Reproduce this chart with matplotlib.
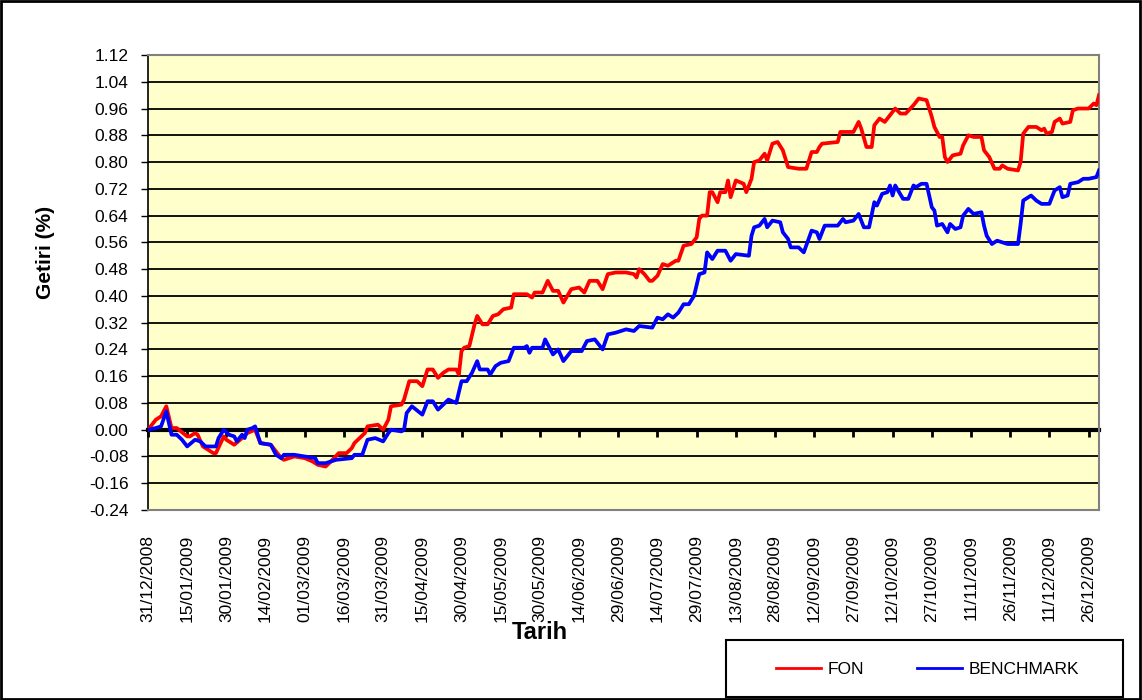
import numpy as np
import matplotlib
matplotlib.use("Agg")
import matplotlib.pyplot as plt
import matplotlib.dates as mdates
from matplotlib.patches import Rectangle
from matplotlib.lines import Line2D

plt.rcParams['font.family'] = ['Liberation Sans', 'DejaVu Sans']

start = np.datetime64('2008-12-31')

# gün (31/12/2008'den itibaren) ve getiri değerleri
fon_days = [0, 3, 5, 7, 9, 11, 15, 16, 18, 19, 21, 25, 26, 29, 30, 33, 36, 38, 41, 43,
            47, 51, 52, 56, 60, 63, 65, 68, 70, 73, 76, 78, 79, 83, 84, 88, 90, 92, 93, 97,
            98, 100, 103, 105, 107, 109, 111, 113, 115, 118, 119, 120, 121, 123, 125, 126, 128, 130, 132, 134,
            136, 139, 140, 145, 147, 148, 151, 153, 155, 157, 159, 162, 165, 167, 169, 172, 174, 176, 179, 183,
            186, 187, 188, 190, 192, 193, 195, 197, 199, 202, 203, 205, 208, 210, 211, 212, 214, 215, 216, 218,
            219, 221, 222, 223, 225, 228, 229, 231, 232, 234, 236, 237, 239, 241, 243, 245, 249, 252, 254, 256,
            257, 258, 264, 265, 270, 272, 273, 275, 277, 278, 280, 282, 284, 286, 288, 290, 293, 295, 298, 300,
            301, 303, 304, 305, 306, 308, 311, 312, 314, 316, 319, 320, 322, 324, 326, 327, 329, 333, 334, 335,
            337, 340, 342, 343, 344, 346, 347, 349, 350, 353, 354, 356, 360, 362, 363, 364]
fon_vals = [0.0, 0.03, 0.04, 0.07, 0.005, 0.005, -0.02, -0.02, -0.01, -0.015, -0.05, -0.07, -0.07, -0.02, -0.03, -0.045, -0.025, -0.01, 0.0, -0.04,
            -0.045, -0.085, -0.09, -0.08, -0.085, -0.095, -0.105, -0.11, -0.095, -0.07, -0.07, -0.055, -0.04, -0.01, 0.01, 0.015, 0.0, 0.03, 0.07, 0.075,
            0.09, 0.145, 0.145, 0.13, 0.18, 0.18, 0.155, 0.17, 0.18, 0.18, 0.165, 0.235, 0.245, 0.25, 0.315, 0.34, 0.315, 0.315, 0.34, 0.345,
            0.36, 0.365, 0.405, 0.405, 0.395, 0.41, 0.41, 0.445, 0.415, 0.415, 0.38, 0.42, 0.425, 0.41, 0.445, 0.445, 0.42, 0.465, 0.47, 0.47,
            0.465, 0.455, 0.48, 0.465, 0.445, 0.445, 0.46, 0.495, 0.49, 0.505, 0.505, 0.55, 0.555, 0.575, 0.63, 0.64, 0.64, 0.71, 0.71, 0.68,
            0.71, 0.71, 0.745, 0.695, 0.745, 0.735, 0.71, 0.75, 0.80, 0.805, 0.825, 0.805, 0.855, 0.86, 0.835, 0.785, 0.78, 0.78, 0.83, 0.83,
            0.845, 0.855, 0.86, 0.89, 0.89, 0.92, 0.90, 0.845, 0.845, 0.91, 0.93, 0.92, 0.94, 0.96, 0.945, 0.945, 0.97, 0.99, 0.985, 0.935,
            0.905, 0.875, 0.875, 0.815, 0.80, 0.82, 0.825, 0.85, 0.88, 0.875, 0.875, 0.835, 0.815, 0.78, 0.78, 0.79, 0.78, 0.775, 0.80, 0.885,
            0.905, 0.905, 0.895, 0.90, 0.885, 0.89, 0.92, 0.93, 0.915, 0.92, 0.955, 0.96, 0.96, 0.975, 0.97, 1.0]

bm_days = [0, 3, 5, 7, 9, 11, 13, 15, 18, 20, 22, 26, 27, 29, 31, 33, 34, 36, 37, 38,
           40, 41, 43, 47, 49, 51, 52, 56, 60, 64, 65, 68, 72, 78, 79, 82, 84, 87, 90, 92,
           93, 97, 98, 99, 101, 105, 107, 109, 111, 113, 115, 118, 120, 122, 124, 126, 127, 130, 131, 133,
           135, 138, 140, 144, 145, 146, 147, 151, 152, 155, 157, 159, 162, 166, 168, 171, 174, 176, 179, 183,
           186, 188, 193, 195, 197, 199, 201, 203, 205, 207, 209, 211, 213, 214, 216, 218, 221, 223, 225, 230,
           231, 232, 234, 236, 237, 239, 242, 243, 245, 246, 249, 251, 254, 256, 257, 259, 264, 266, 267, 270,
           272, 274, 276, 278, 279, 281, 283, 284, 285, 286, 289, 291, 293, 294, 296, 298, 300, 301, 302, 304,
           306, 307, 309, 311, 312, 314, 316, 319, 320, 321, 323, 325, 327, 329, 333, 334, 335, 338, 340, 342,
           345, 347, 349, 350, 352, 353, 356, 358, 360, 363, 364]
bm_vals = [0.0, 0.005, 0.01, 0.055, -0.015, -0.015, -0.03, -0.05, -0.03, -0.035, -0.05, -0.05, -0.025, 0.0, -0.015, -0.02, -0.035, -0.015, -0.025, 0.0,
           0.005, 0.01, -0.04, -0.045, -0.075, -0.085, -0.075, -0.075, -0.08, -0.085, -0.10, -0.10, -0.09, -0.085, -0.075, -0.075, -0.03, -0.025, -0.035, -0.01,
           0.0, -0.005, 0.0, 0.05, 0.07, 0.045, 0.085, 0.085, 0.06, 0.075, 0.09, 0.08, 0.145, 0.145, 0.17, 0.205, 0.18, 0.18, 0.165, 0.19,
           0.20, 0.205, 0.245, 0.245, 0.25, 0.23, 0.245, 0.245, 0.27, 0.225, 0.24, 0.205, 0.235, 0.235, 0.265, 0.27, 0.24, 0.285, 0.29, 0.30,
           0.295, 0.31, 0.305, 0.335, 0.33, 0.345, 0.335, 0.35, 0.375, 0.375, 0.40, 0.465, 0.47, 0.53, 0.51, 0.535, 0.535, 0.505, 0.525, 0.52,
           0.58, 0.605, 0.61, 0.63, 0.605, 0.625, 0.62, 0.59, 0.57, 0.545, 0.545, 0.53, 0.595, 0.59, 0.57, 0.61, 0.61, 0.63, 0.62, 0.625,
           0.645, 0.605, 0.605, 0.68, 0.67, 0.705, 0.71, 0.73, 0.70, 0.73, 0.69, 0.69, 0.73, 0.725, 0.735, 0.735, 0.665, 0.655, 0.61, 0.615,
           0.59, 0.615, 0.60, 0.605, 0.64, 0.66, 0.645, 0.65, 0.61, 0.58, 0.555, 0.565, 0.56, 0.555, 0.555, 0.615, 0.685, 0.70, 0.685, 0.675,
           0.675, 0.715, 0.725, 0.695, 0.70, 0.735, 0.74, 0.75, 0.75, 0.755, 0.775]

y_ticks = np.arange(-0.24, 1.1201, 0.08)

fon_dates = start + np.array(fon_days).astype('timedelta64[D]')
bm_dates = start + np.array(bm_days).astype('timedelta64[D]')
tick_dates = start + np.arange(0, 361, 15).astype('timedelta64[D]')

fig = plt.figure(figsize=(11.42, 7.0), dpi=100)
ax = fig.add_axes([148/1142, 1 - 510/700, 951/1142, 455/700])
ax.set_facecolor('#FFFFCC')

for v in y_ticks:
    if abs(v) > 1e-9:
        ax.axhline(v, color='black', lw=1.3, zorder=1)

ax.plot(fon_dates, fon_vals, color='#FF0000', lw=2.7, zorder=3, solid_joinstyle='round')
ax.plot(bm_dates, bm_vals, color='#0000FF', lw=2.7, zorder=3, solid_joinstyle='round')

ax.set_ylim(-0.24, 1.12)
ax.set_xlim(start, start + np.timedelta64(364, 'D'))
ax.set_yticks(y_ticks)
ax.set_yticklabels(['%.2f' % v for v in y_ticks], fontsize=12.5)
ax.tick_params(axis='y', direction='out', length=5, width=1, pad=9)

ax.set_xticks(tick_dates)
ax.xaxis.set_major_formatter(mdates.DateFormatter('%d/%m/%Y'))
ax.tick_params(axis='x', length=0, pad=18, labelsize=12.5, labelrotation=90)

# sıfır çizgisi üzerinde tarih ekseni
zero_ax = ax.secondary_xaxis(0, transform=ax.transData)
zero_ax.set_xticks(tick_dates)
zero_ax.tick_params(axis='x', direction='out', length=5, width=2, labelbottom=False)
zero_ax.spines['bottom'].set_linewidth(3)
zero_ax.spines['bottom'].set_color('black')

for s in ['top', 'right', 'bottom']:
    ax.spines[s].set_color('#808080')
    ax.spines[s].set_linewidth(1.5)
ax.spines['left'].set_color('black')
ax.spines['left'].set_linewidth(1.2)

ax.set_ylabel('Getiri (%)', fontsize=15, fontweight='bold')
ax.yaxis.set_label_coords(-0.098, 0.565)
ax.set_xlabel('Tarih', fontsize=17, fontweight='bold')
ax.xaxis.set_label_coords(0.412, -0.245)

# lejant kutusu
fig.add_artist(Rectangle((726/1142, 3/700), 397/1142, 57/700, transform=fig.transFigure,
                         fill=False, edgecolor='black', lw=1.5))
handles = [Line2D([], [], color='#FF0000', lw=2), Line2D([], [], color='#0000FF', lw=2)]
fig.legend(handles, ['FON', 'BENCHMARK'], loc='center', ncol=2, frameon=False,
           bbox_to_anchor=((726 + 397/2 + 3)/1142, 31/700), fontsize=12.5,
           handlelength=2.6, handletextpad=0.4, columnspacing=3.0)

fig.add_artist(Rectangle((0.001, 0.002), 0.997, 0.996, transform=fig.transFigure,
                         fill=False, edgecolor='black', lw=2))

fig.savefig('out.png', dpi=100)
